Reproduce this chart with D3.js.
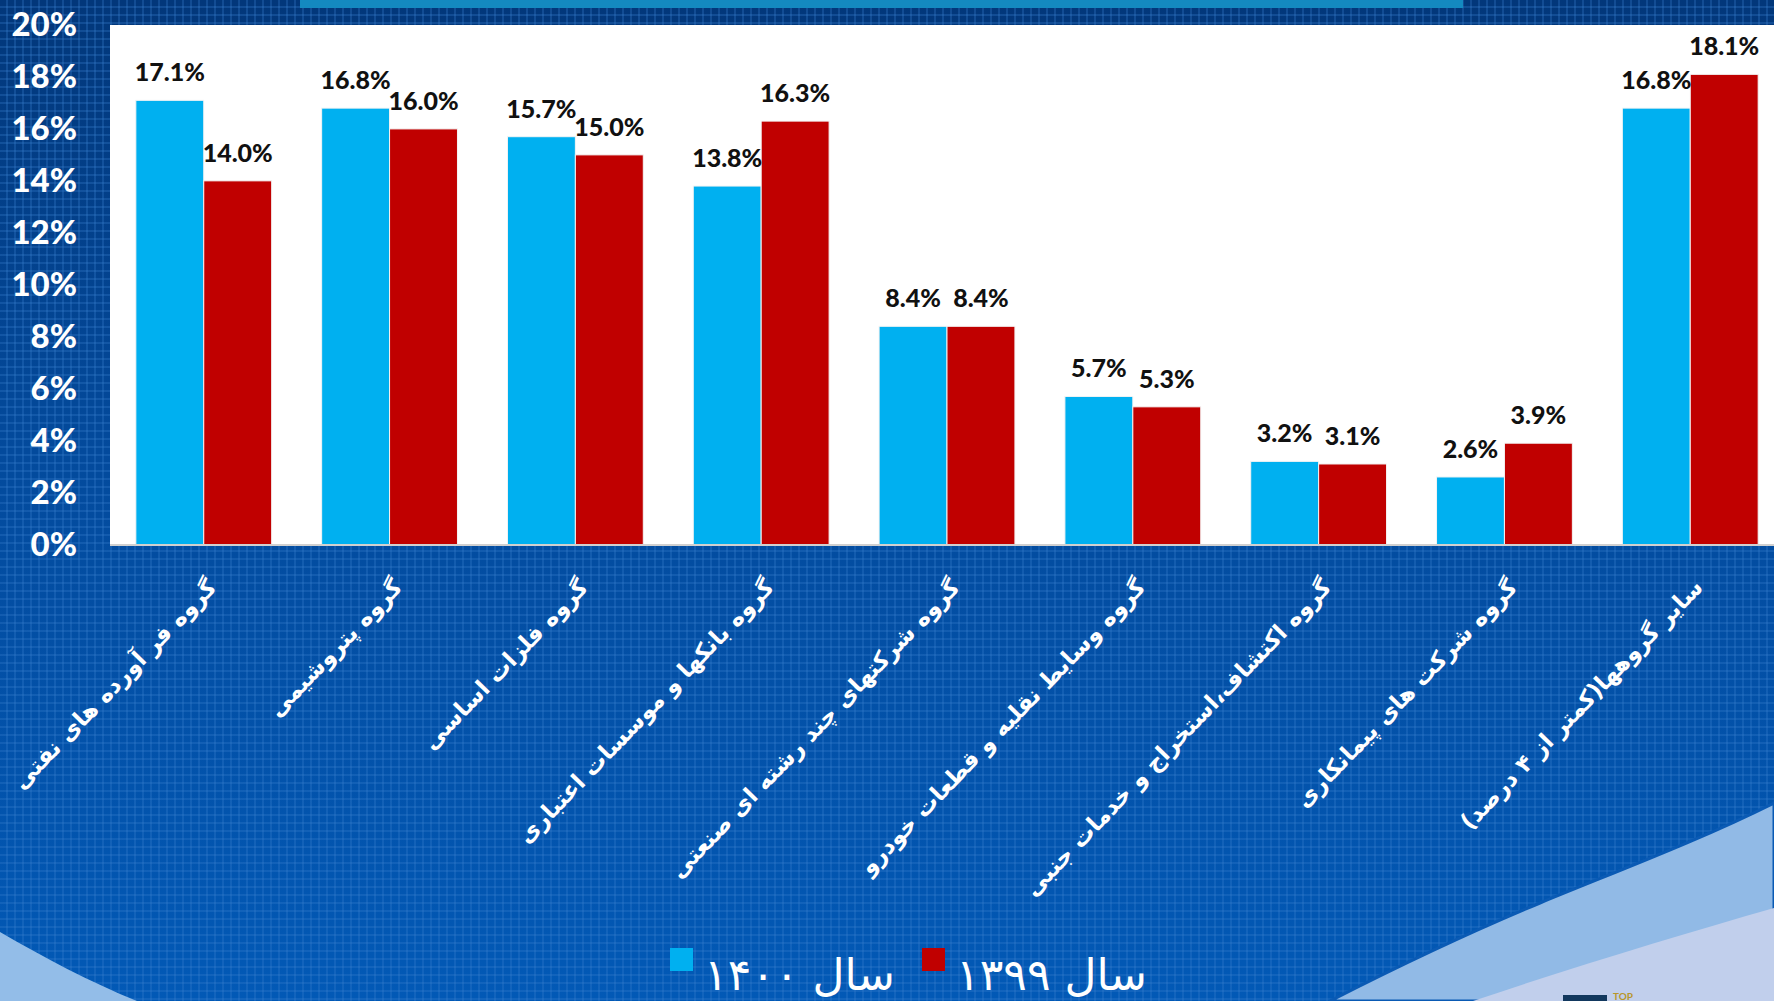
<!DOCTYPE html>
<html>
<head>
<meta charset="utf-8">
<script src="https://cdn.jsdelivr.net/npm/d3@7"></script>
<style>
  html, body { margin: 0; padding: 0; background: #0050a8; overflow: hidden; }
  svg { display: block; }
</style>
</head>
<body>
<div id="chart"></div>
<script>
// data
const categories = [
  "گروه فر آورده های نفتی",
  "گروه پتروشیمی",
  "گروه فلزات اساسی",
  "گروه بانکها و موسسات اعتباری",
  "گروه شرکتهای چند رشته ای صنعتی",
  "گروه وسایط نقلیه و قطعات خودرو",
  "گروه اکتشاف،استخراج و خدمات جنبی",
  "گروه شرکت های پیمانکاری",
  "سایر گروهها(کمتر از ۴ درصد)"
];
const series = ["سال ۱۴۰۰", "سال ۱۳۹۹"];
const values1400 = [17.1, 16.8, 15.7, 13.8, 8.4, 5.7, 3.2, 2.6, 16.8];
const values1399 = [14.0, 16.0, 15.0, 16.3, 8.4, 5.3, 3.1, 3.9, 18.1];
const yTicks = [0, 2, 4, 6, 8, 10, 12, 14, 16, 18, 20];
const colors = ["#00b0f0", "#c00000"];

const width = 1774;
const height = 1001;
const plot = { left: 110, right: 1784, top: 25, bottom: 544.5 };

const svg = d3.select("#chart").append("svg")
  .attr("width", width)
  .attr("height", height);

// ---- background ----
const defs = svg.append("defs");
const grad = defs.append("linearGradient")
  .attr("id", "bg").attr("x1", 0).attr("y1", 0).attr("x2", 0).attr("y2", 1);
grad.append("stop").attr("offset", "0%").attr("stop-color", "#02377a");
grad.append("stop").attr("offset", "45%").attr("stop-color", "#034a9c");
grad.append("stop").attr("offset", "100%").attr("stop-color", "#0259b6");

const pat = defs.append("pattern")
  .attr("id", "grid").attr("width", 8).attr("height", 8)
  .attr("patternUnits", "userSpaceOnUse");
pat.append("rect").attr("x", 0).attr("y", 6).attr("width", 8).attr("height", 2)
  .attr("fill", "#3a80d0").attr("opacity", 0.3);
pat.append("rect").attr("x", 6).attr("y", 0).attr("width", 2).attr("height", 8)
  .attr("fill", "#3a80d0").attr("opacity", 0.3);

svg.append("rect").attr("width", width).attr("height", height).attr("fill", "url(#bg)");
svg.append("rect").attr("width", width).attr("height", height).attr("fill", "url(#grid)");

// top strip
svg.append("rect").attr("x", 300).attr("y", 0).attr("width", 1163).attr("height", 8)
  .attr("fill", "#1489c0");

// bottom swooshes
svg.append("path")
  .attr("d", "M1774,803 C1700,840 1620,870 1540,903 C1480,928 1420,955 1330,1001 L1774,1001 Z")
  .attr("fill", "#91bae6").attr("stroke", "#0a5ab4").attr("stroke-width", 3);
svg.append("path")
  .attr("d", "M1774,908 C1680,935 1580,965 1473,1001 L1774,1001 Z")
  .attr("fill", "#c1cfec");
svg.append("path")
  .attr("d", "M0,932 C45,958 90,982 137,1001 L0,1001 Z")
  .attr("fill", "#93bde8");

// tiny logo bit
svg.append("rect").attr("x", 1563).attr("y", 995).attr("width", 44).attr("height", 6).attr("fill", "#12385e");
svg.append("text").attr("x", 1613).attr("y", 1000).attr("font-family", "Lato").attr("font-weight", 700)
  .attr("font-size", 10).attr("fill", "#b8962a").text("TOP");

// ---- plot area ----
svg.append("rect")
  .attr("x", plot.left).attr("y", plot.top)
  .attr("width", width - plot.left).attr("height", plot.bottom - plot.top)
  .attr("fill", "#ffffff");

const x0 = d3.scaleBand()
  .domain(categories)
  .range([plot.left, plot.right])
  .paddingInner(0.269)
  .paddingOuter(0.139);

const x1 = d3.scaleBand()
  .domain(series)
  .range([0, x0.bandwidth()]);

const y = d3.scaleLinear()
  .domain([0, 20])
  .range([plot.bottom, plot.top]);

const rows = categories.map((c, i) => ({
  cat: c,
  vals: [
    { s: series[0], v: values1400[i], color: colors[0] },
    { s: series[1], v: values1399[i], color: colors[1] }
  ]
}));

const groups = svg.append("g").selectAll("g")
  .data(rows)
  .join("g")
  .attr("transform", d => `translate(${x0(d.cat)},0)`);

groups.selectAll("rect")
  .data(d => d.vals)
  .join("rect")
  .attr("x", d => x1(d.s))
  .attr("y", d => y(d.v))
  .attr("width", x1.bandwidth())
  .attr("height", d => y(0) - y(d.v))
  .attr("fill", d => d.color)
  .attr("stroke", "#f4f4f4")
  .attr("stroke-width", 1);

groups.selectAll("text")
  .data(d => d.vals)
  .join("text")
  .attr("x", d => x1(d.s) + x1.bandwidth() / 2)
  .attr("y", d => y(d.v) - 19)
  .attr("text-anchor", "middle")
  .attr("font-family", "Lato")
  .attr("font-weight", 900)
  .attr("font-size", 25)
  .attr("fill", "#111")
  .text(d => d.v.toFixed(1) + "%");

// baseline
svg.append("line")
  .attr("x1", plot.left).attr("x2", width)
  .attr("y1", plot.bottom + 0.5).attr("y2", plot.bottom + 0.5)
  .attr("stroke", "#d0d0d0").attr("stroke-width", 2);

// y axis
const gy = svg.append("g")
  .attr("transform", `translate(${plot.left},0)`)
  .call(d3.axisLeft(y).tickValues(yTicks).tickSize(0).tickPadding(33).tickFormat(d => d + "%"));
gy.select(".domain").remove();
gy.selectAll("text")
  .attr("font-family", "Lato")
  .attr("font-weight", 900)
  .attr("font-size", 33)
  .attr("fill", "#ffffff");

// x axis (rotated category labels)
const gx = svg.append("g")
  .attr("transform", `translate(0,${plot.bottom})`)
  .call(d3.axisBottom(x0).tickSize(0));
gx.select(".domain").remove();
gx.selectAll("text")
  .attr("font-family", "DejaVu Sans")
  .attr("font-weight", 700)
  .attr("font-size", 23)
  .attr("fill", "#ffffff")
  .attr("text-anchor", "end")
  .attr("dy", 0)
  .attr("y", 0)
  .attr("transform", "translate(14,44) rotate(-46)");

// legend
const legend = svg.append("g").attr("transform", "translate(670,948)");
const legendX = [0, 252];
series.forEach((s, i) => {
  const item = legend.append("g").attr("transform", `translate(${legendX[i]},0)`);
  item.append("rect").attr("width", 23).attr("height", 23).attr("fill", colors[i]);
  item.append("text")
    .attr("x", 34).attr("y", 42)
    .attr("font-family", "DejaVu Sans")
    .attr("font-size", 44)
    .attr("fill", "#ffffff")
    .text(s);
});
</script>
</body>
</html>
